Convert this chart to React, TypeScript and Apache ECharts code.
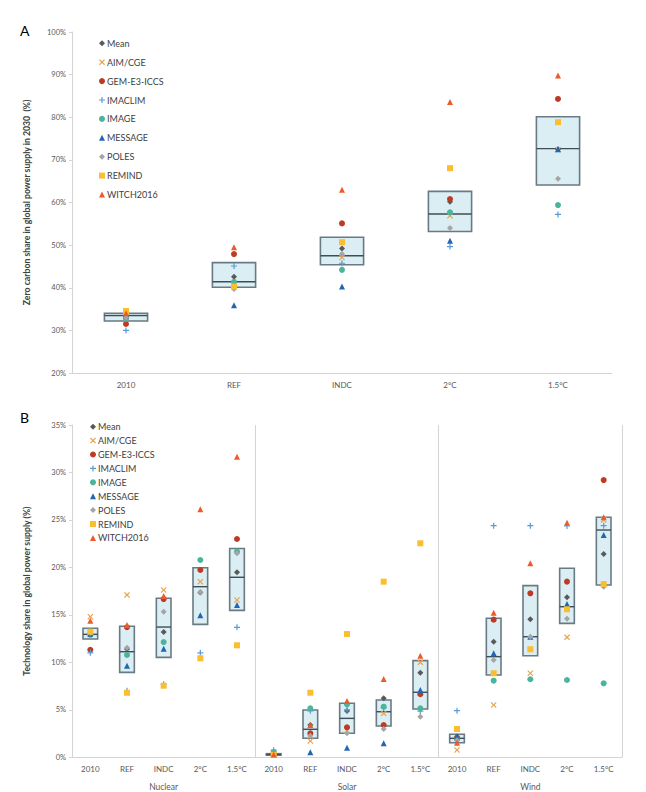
import React, { useEffect, useRef } from 'react';
import * as echarts from 'echarts';

// ---- categories ----
const scenarios = ['2010', 'REF', 'INDC', '2°C', '1.5°C'];
const technologies = ['Nuclear', 'Solar', 'Wind'];
const modelNames = ['Mean', 'AIM/CGE', 'GEM-E3-ICCS', 'IMACLIM', 'IMAGE', 'MESSAGE', 'POLES', 'REMIND', 'WITCH2016'];

// ---- Panel A: zero carbon share in global power supply in 2030 (%) ----
const zcBoxLow = [32.2, 40.1, 45.4, 53.2, 64.1];
const zcBoxMedian = [33.45, 41.4, 47.5, 57.3, 72.65];
const zcBoxHigh = [34.0, 45.9, 51.85, 62.6, 80.1];

const zcMean = [33.2, 42.6, 49.2, 60.2, 72.5];
const zcAIM = [34.3, 40.6, 47.1, 56.9, 72.4];
const zcGEM = [31.5, 47.9, 55.1, 60.8, 84.3];
const zcIMACLIM = [30.0, 45.1, 45.75, 49.65, 57.2];
const zcIMAGE = [32.7, 41.4, 44.2, 57.7, 59.4];
const zcMESSAGE = [33.5, 35.9, 40.3, 51.0, 72.5];
const zcPOLES = [33.0, 39.7, 47.9, 54.0, 65.6];
const zcREMIND = [34.55, 40.3, 50.7, 68.05, 78.85];
const zcWITCH = [34.0, 49.5, 63.0, 83.6, 89.8];

// ---- Panel B: technology share in global power supply (%) ----
// each list: Nuclear (5 scenarios), Solar (5), Wind (5)
const techBoxLow = [12.46, 8.95, 10.53, 14.0, 15.48, 0.22, 2.0, 2.53, 3.3, 5.09, 1.54, 8.67, 10.7, 14.11, 18.15];
const techBoxMedian = [12.95, 11.12, 13.72, 17.97, 18.96, 0.3, 2.95, 4.1, 4.8, 6.85, 2.0, 10.6, 12.7, 15.86, 23.94];
const techBoxHigh = [13.59, 13.8, 16.75, 19.97, 22.0, 0.38, 4.98, 5.69, 6.04, 10.18, 2.42, 14.64, 18.08, 19.91, 25.28];

const techMean = [13.0, 11.4, 13.2, 17.37, 19.49, 0.35, 3.4, 4.88, 6.21, 8.91, 2.2, 12.18, 14.53, 16.85, 21.41];
const techAIM = [14.8, 17.1, 17.62, 18.5, 16.57, 0.3, 1.72, 2.8, 4.63, 10.0, 0.77, 5.51, 8.85, 12.64, 25.0];
const techGEM = [11.33, 13.7, 16.67, 19.73, 22.99, 0.3, 2.53, 3.16, 3.4, 6.64, 2.0, 14.5, 17.27, 18.5, 29.2];
const techIMACLIM = [11.0, 7.0, 7.7, 11.0, 13.69, 0.75, 4.9, 5.0, 5.2, 4.87, 4.91, 24.4, 24.4, 24.36, 24.4];
const techIMAGE = [12.9, 10.78, 12.14, 20.78, 21.66, 0.55, 5.16, 5.58, 5.33, 5.16, 1.9, 8.07, 8.22, 8.14, 7.79];
const techMESSAGE = [13.0, 9.65, 11.44, 14.96, 16.04, 0.3, 0.53, 1.01, 1.47, 7.09, 2.17, 10.95, 12.7, 16.15, 23.42];
const techPOLES = [13.1, 11.55, 15.34, 17.41, 21.5, 0.3, 2.28, 2.53, 2.98, 4.28, 1.8, 10.25, 12.7, 14.6, 17.97];
const techREMIND = [13.23, 6.8, 7.54, 10.43, 11.8, 0.25, 6.8, 12.99, 18.5, 22.54, 2.98, 8.85, 11.38, 15.59, 18.25];
const techWITCH = [14.39, 13.93, 16.99, 26.12, 31.66, 0.3, 3.4, 5.93, 8.25, 10.7, 1.54, 15.23, 20.43, 24.71, 25.28];

const zcByModel = [zcMean, zcAIM, zcGEM, zcIMACLIM, zcIMAGE, zcMESSAGE, zcPOLES, zcREMIND, zcWITCH];
const techByModel = [techMean, techAIM, techGEM, techIMACLIM, techIMAGE, techMESSAGE, techPOLES, techREMIND, techWITCH];

// ---- marker styles ----
const PLUS = 'path://M4,0H6V4H10V6H6V10H4V6H0V4H4Z';
const CROSS = 'path://M1.4,0L5,3.6L8.6,0L10,1.4L6.4,5L10,8.6L8.6,10L5,6.4L1.4,10L0,8.6L3.6,5L0,1.4Z';
const markerStyles = [
  { symbol: 'diamond', color: '#595959', size: 6 },
  { symbol: CROSS, color: '#E8A34A', size: 6 },
  { symbol: 'circle', color: '#BE3A24', size: 6 },
  { symbol: PLUS, color: '#5B9BD5', size: 6 },
  { symbol: 'circle', color: '#4BB49B', size: 6 },
  { symbol: 'triangle', color: '#2166B4', size: 6 },
  { symbol: 'diamond', color: '#A5A5A5', size: 6 },
  { symbol: 'rect', color: '#FBBE2F', size: 6 },
  { symbol: 'triangle', color: '#EE5A2A', size: 6 },
];

const FONT = 'Lato, "Open Sans", sans-serif';
const AXIS_GRAY = '#D4D4D4';
const LABEL_GRAY = '#595959';

function renderBox(params: any, api: any) {
  const x = api.value(0);
  const lo = api.coord([x, api.value(1)]);
  const md = api.coord([x, api.value(2)]);
  const hi = api.coord([x, api.value(3)]);
  const w = api.size([1, 0])[0] * 0.4;
  return {
    type: 'group',
    children: [
      {
        type: 'rect',
        shape: { x: lo[0] - w / 2, y: hi[1], width: w, height: lo[1] - hi[1] },
        style: { fill: '#DAEEF4', stroke: '#6A7A84', lineWidth: 1.6 },
      },
      {
        type: 'line',
        shape: { x1: lo[0] - w / 2, y1: md[1], x2: lo[0] + w / 2, y2: md[1] },
        style: { stroke: '#3E4D57', lineWidth: 1.4 },
      },
    ],
  };
}

function modelSeries(values: number[][], xAxisIndex: number, yAxisIndex: number) {
  return modelNames.map((name, m) => ({
    type: 'scatter',
    name,
    xAxisIndex,
    yAxisIndex,
    symbol: markerStyles[m].symbol,
    symbolSize: markerStyles[m].size,
    itemStyle: { color: markerStyles[m].color, opacity: 1 },
    data: values[m]
      .map((v, i) => (v == null ? null : [i, v]))
      .filter((d) => d !== null),
    z: 3,
    silent: true,
  }));
}

function legendFor(left: number, top: number, gap: number) {
  return {
    data: modelNames,
    orient: 'vertical',
    left,
    top,
    padding: 0,
    itemWidth: 6,
    itemHeight: 6,
    itemGap: gap,
    selectedMode: false,
    textStyle: { fontSize: 9, color: '#404040', fontFamily: FONT, lineHeight: 10, padding: [0, 0, 0, -3] },
  };
}

export default function App() {
  const ref = useRef<HTMLDivElement>(null);

  useEffect(() => {
    if (!ref.current) return;
    const chart = echarts.init(ref.current, undefined, { renderer: 'svg' });
    const techScenarioLabels = technologies.flatMap(() => scenarios);

    const option: any = {
      animation: false,
      backgroundColor: '#ffffff',
      textStyle: { fontFamily: FONT },
      graphic: [
        { type: 'text', left: 20, top: 23, style: { text: 'A', fontSize: 14, fontFamily: FONT, fill: '#000' } },
        { type: 'text', left: 20, top: 410, style: { text: 'B', fontSize: 14, fontFamily: FONT, fill: '#000' } },
      ],
      legend: [legendFor(99, 38.3, 8.9), legendFor(90, 421.7, 3.9)],
      grid: [
        { left: 72, top: 32, width: 540, height: 341 },
        { left: 72, top: 425, width: 550, height: 332.3 },
      ],
      xAxis: [
        {
          gridIndex: 0,
          type: 'category',
          data: scenarios,
          axisLine: { lineStyle: { color: AXIS_GRAY, width: 1 } },
          axisTick: { length: 4, lineStyle: { color: AXIS_GRAY } },
          axisLabel: { fontSize: 8, color: LABEL_GRAY, margin: 8 },
          splitLine: { show: false },
        },
        {
          gridIndex: 1,
          type: 'category',
          data: techScenarioLabels,
          position: 'bottom',
          axisLine: { lineStyle: { color: AXIS_GRAY, width: 1 } },
          axisTick: { length: 18, lineStyle: { color: AXIS_GRAY } },
          axisLabel: { fontSize: 8, color: LABEL_GRAY, margin: 8, interval: 0 },
          splitLine: { show: false },
        },
        {
          gridIndex: 1,
          type: 'category',
          data: technologies,
          position: 'bottom',
          axisLine: { show: false },
          axisTick: { length: 40, lineStyle: { color: AXIS_GRAY } },
          axisLabel: { fontSize: 8.5, color: LABEL_GRAY, margin: 25, interval: 0 },
          splitLine: { show: true, lineStyle: { color: AXIS_GRAY, width: 1 } },
        },
      ],
      yAxis: [
        {
          gridIndex: 0,
          type: 'value',
          min: 20,
          max: 100,
          interval: 10,
          name: 'Zero carbon share in global power supply in 2030  (%)',
          nameLocation: 'middle',
          nameGap: 41,
          nameTextStyle: { fontSize: 8.7, fontWeight: 'bold', color: '#404040', fontFamily: FONT },
          axisLine: { show: true, lineStyle: { color: AXIS_GRAY } },
          axisTick: { show: true, length: 3, lineStyle: { color: AXIS_GRAY } },
          axisLabel: { formatter: '{value}%', fontSize: 7.5, color: LABEL_GRAY, margin: 6 },
          splitLine: { show: false },
        },
        {
          gridIndex: 1,
          type: 'value',
          min: 0,
          max: 35,
          interval: 5,
          name: 'Technology share in global power supply (%)',
          nameLocation: 'middle',
          nameGap: 41,
          nameTextStyle: { fontSize: 8.7, fontWeight: 'bold', color: '#404040', fontFamily: FONT },
          axisLine: { show: true, lineStyle: { color: AXIS_GRAY } },
          axisTick: { show: true, length: 3, lineStyle: { color: AXIS_GRAY } },
          axisLabel: { formatter: '{value}%', fontSize: 7.5, color: LABEL_GRAY, margin: 6 },
          splitLine: { show: false },
        },
      ],
      series: [
        {
          type: 'custom',
          name: 'Model range',
          xAxisIndex: 0,
          yAxisIndex: 0,
          data: scenarios.map((_, i) => [i, zcBoxLow[i], zcBoxMedian[i], zcBoxHigh[i]]),
          encode: { x: 0, y: [1, 2, 3] },
          renderItem: renderBox,
          z: 1,
          silent: true,
        },
        {
          type: 'custom',
          name: 'Model range',
          xAxisIndex: 1,
          yAxisIndex: 1,
          data: techScenarioLabels.map((_, i) => [i, techBoxLow[i], techBoxMedian[i], techBoxHigh[i]]),
          encode: { x: 0, y: [1, 2, 3] },
          renderItem: renderBox,
          z: 1,
          silent: true,
        },
        ...modelSeries(zcByModel, 0, 0),
        ...modelSeries(techByModel, 1, 1),
      ],
    };

    chart.setOption(option);
    return () => chart.dispose();
  }, []);

  return (
    <div
      ref={ref}
      style={{ position: 'fixed', left: 0, top: 0, width: 646, height: 792, background: '#fff' }}
    />
  );
}
